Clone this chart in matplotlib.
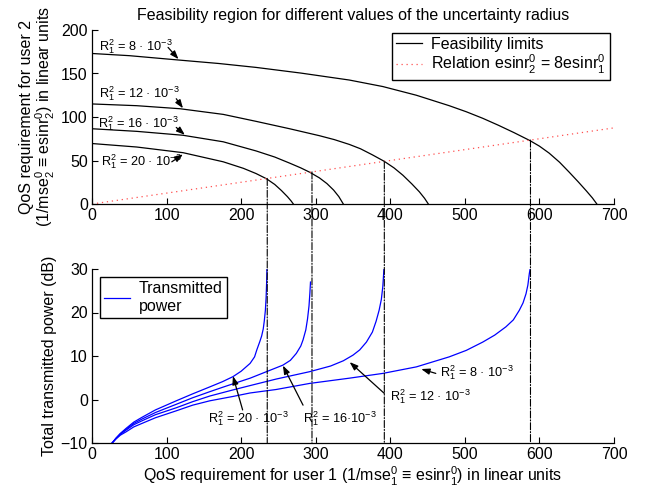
import matplotlib
matplotlib.use('Agg')
import matplotlib.pyplot as plt
from matplotlib.patches import ConnectionPatch

plt.rcParams['font.family'] = ['Liberation Sans', 'DejaVu Sans']
plt.rcParams['mathtext.fontset'] = 'custom'
plt.rcParams['mathtext.rm'] = 'Liberation Sans'
plt.rcParams['mathtext.it'] = 'Liberation Sans:italic'
plt.rcParams['mathtext.bf'] = 'Liberation Sans:bold'
plt.rcParams['xtick.direction'] = 'in'
plt.rcParams['ytick.direction'] = 'in'
plt.rcParams['axes.unicode_minus'] = True

# ---------------- data: feasibility limits (top) ----------------
feas8_x = [0, 50, 116, 170, 220, 280, 345, 390, 435, 479, 502, 524, 545, 566, 587,
           600, 613, 627, 640, 652, 663, 671, 677]
feas8_y = [173, 170.5, 165.5, 161.5, 157, 150.5, 142.5, 135, 125, 113, 106, 98.5, 90.5,
           82, 73, 66.5, 58.5, 48, 36.5, 25.5, 15, 7, 0]

feas12_x = [0, 60, 118, 176, 220, 265, 305, 325, 345, 360, 376, 392, 405, 417, 429, 439,
            446, 451]
feas12_y = [115, 113, 109.5, 103, 95, 86.5, 78.5, 74, 68.5, 63.5, 56.5, 49, 41.5, 33, 23,
            14, 6.5, 0]

feas16_x = [0, 60, 122, 176, 220, 245, 265, 280, 292, 305, 315, 324, 331, 337]
feas16_y = [86.5, 83.5, 79, 71.5, 61, 54, 47, 41.5, 36.5, 30, 23.5, 16, 8.5, 0]

feas20_x = [0, 60, 122, 176, 203, 220, 234, 245, 254, 262, 267, 270]
feas20_y = [69.5, 65.5, 59, 48.5, 41, 35, 29, 22.5, 15.5, 8.5, 3.5, 0]

relation_x = [0, 700]
relation_y = [0, 87.5]

intersect_x = [235, 295, 392, 588]
intersect_y = [29.4, 36.9, 49, 73.5]

# ---------------- data: transmitted power (bottom) ----------------
pow20_x = [27, 32, 38, 46, 56, 67, 85, 113, 135, 158, 175, 189, 200, 212, 218, 221,
           225, 227.5, 229.6, 231, 232.5, 233.5, 234.2, 234.6]
pow20_y = [-10, -8.9, -7.8, -6.6, -5.2, -4.1, -2.4, -0.3, 1.3, 2.9, 4.1, 5.25, 6.5,
           8.3, 9.8, 11.4, 13.3, 14.6, 16.2, 18, 20.5, 23.5, 27, 30]

pow16_x = [27, 32, 38, 46, 56, 67, 85, 113, 135, 158, 175, 189, 212, 234, 256, 266,
           274, 280, 283, 286.7, 289, 291, 292.2, 293]
pow16_y = [-10, -9.0, -7.9, -6.8, -5.5, -4.5, -3.0, -1.1, 0.4, 1.8, 2.8, 3.6, 4.9, 6.4,
           7.9, 9.0, 10.6, 12.3, 13.7, 16, 18.5, 21.5, 24.5, 27]

pow12_x = [27, 32, 38, 46, 56, 67, 85, 113, 135, 158, 189, 212, 247, 292, 320, 337,
           350, 359, 368, 376, 381, 385, 388, 390, 391.5]
pow12_y = [-10, -9.0, -8.0, -7.0, -5.8, -4.9, -3.5, -1.9, -0.5, 0.8, 2.2, 3.2, 4.7,
           6.4, 7.7, 8.9, 10.2, 11.4, 13.2, 15.5, 18.0, 20.5, 23, 26, 30]

pow8_x = [27, 32, 38, 46, 56, 67, 85, 113, 135, 158, 189, 212, 247, 292, 345, 390,
          435, 479, 502, 524, 540, 555, 565, 573, 578, 582, 584.5, 586.5, 587.5]
pow8_y = [-10, -9.1, -8.2, -7.4, -6.3, -5.5, -4.2, -2.6, -1.3, -0.3, 0.7, 1.5, 2.3,
          3.7, 4.9, 6.0, 7.5, 9.8, 11.3, 13.2, 14.8, 16.7, 18.3, 20.5, 22.2, 24.3, 26.3,
          29, 30]

xticks = [0, 100, 200, 300, 400, 500, 600, 700]
yticks_top = [0, 50, 100, 150, 200]
yticks_bot = [-10, 0, 10, 20, 30]

top_labels = ['R$_1^2$ = 8 · 10$^{-3}$', 'R$_1^2$ = 12 · 10$^{-3}$',
              'R$_1^2$ = 16 · 10$^{-3}$', 'R$_1^2$ = 20 · 10$^{-3}$']
bot_labels = ['R$_1^2$ = 20 · 10$^{-3}$', 'R$_1^2$ = 16·10$^{-3}$',
              'R$_1^2$ = 12 · 10$^{-3}$', 'R$_1^2$ = 8 · 10$^{-3}$']

# ---------------- figure ----------------
W, H = 651, 494
fig = plt.figure(figsize=(W / 100, H / 100), dpi=100)
ax1 = fig.add_axes([92 / W, 1 - 204 / H, 522 / W, 174 / H])
ax2 = fig.add_axes([92 / W, 1 - 443 / H, 522 / W, 174 / H])

FS = 11.5
for ax in (ax1, ax2):
    ax.spines['top'].set_visible(False)
    ax.spines['right'].set_visible(False)
    ax.spines['left'].set_linewidth(0.9)
    ax.spines['bottom'].set_linewidth(0.9)
    ax.tick_params(labelsize=FS, length=4, width=0.8, pad=3)
    ax.set_xlim(0, 700)
    ax.set_xticks(xticks)

lk = dict(color='k', lw=0.9)
ax1.plot(feas8_x, feas8_y, label='Feasibility limits', **lk)
ax1.plot(feas12_x, feas12_y, **lk)
ax1.plot(feas16_x, feas16_y, **lk)
ax1.plot(feas20_x, feas20_y, **lk)
ax1.plot(relation_x, relation_y, color='#ff5050', lw=0.9, linestyle=(0, (1, 3)),
         label='Relation esinr$_2^0$ = 8esinr$_1^0$')
ax1.set_ylim(0, 200)
ax1.set_yticks(yticks_top)
ax1.set_title('Feasibility region for different values of the uncertainty radius',
              fontsize=FS, pad=7)
ax1.set_ylabel('QoS requirement for user 2\n(1/mse$_2^0$ ≡ esinr$_2^0$) in linear units',
               fontsize=FS, labelpad=3, linespacing=1.0)
leg1 = ax1.legend(loc='upper right', bbox_to_anchor=(0.992, 0.985), borderaxespad=0,
                  fancybox=False, edgecolor='k', framealpha=1, fontsize=FS,
                  handlelength=1.6, borderpad=0.25, labelspacing=0.05, handletextpad=0.6)
leg1.get_frame().set_linewidth(1.0)

arrow_kw = dict(arrowstyle='-|>,head_length=0.5,head_width=0.18', color='k', lw=0.9,
                shrinkA=0, shrinkB=0)

# top annotations: text position (x, y), arrow tail, arrow tip
top_text_pos = [(10, 181), (10, 127), (8, 92), (12, 48.5)]
top_tails = [(102, 180), (113, 121), (113, 88), (107, 48.5)]
top_tips = [(116, 166.5), (122, 110), (124.5, 79.5), (122, 57)]
for lab, tp, ta, ti in zip(top_labels, top_text_pos, top_tails, top_tips):
    ax1.text(tp[0], tp[1], lab, fontsize=9.2, ha='left', va='center')
    ax1.annotate('', xy=ti, xytext=ta, arrowprops=arrow_kw)

bc = dict(color='b', lw=0.9)
ax2.plot(pow20_x, pow20_y, label='Transmitted\npower', **bc)
ax2.plot(pow16_x, pow16_y, **bc)
ax2.plot(pow12_x, pow12_y, **bc)
ax2.plot(pow8_x, pow8_y, **bc)
ax2.set_ylim(-10, 30)
ax2.set_yticks(yticks_bot)
ax2.set_ylabel('Total transmitted power (dB)', fontsize=FS, labelpad=3)
ax2.set_xlabel('QoS requirement for user 1 (1/mse$_1^0$ ≡ esinr$_1^0$) in linear units',
               fontsize=FS, labelpad=2)
leg2 = ax2.legend(loc='upper left', bbox_to_anchor=(0.0153, 0.952), borderaxespad=0,
                  fancybox=False, edgecolor='k', framealpha=1, fontsize=FS,
                  handlelength=1.6, borderpad=0.25, handletextpad=0.6)
leg2.get_frame().set_linewidth(1.0)

bot_text_pos = [(156, -4.3), (283, -4.3), (399, 0.6), (466, 6.1)]
bot_tails = [(202, -2.4), (283, -1.3), (392, 1.4), (461, 6.0)]
bot_tips = [(189, 5.4), (256, 7.8), (345.5, 8.6), (441.5, 7.0)]
for lab, tp, ta, ti in zip(bot_labels, bot_text_pos, bot_tails, bot_tips):
    ax2.text(tp[0], tp[1], lab, fontsize=9.2, ha='left', va='center')
    ax2.annotate('', xy=ti, xytext=ta, arrowprops=arrow_kw)

# dash-dot connector lines from top intersections down to bottom axis
for xi, yi in zip(intersect_x, intersect_y):
    con = ConnectionPatch(xyA=(xi, yi), coordsA=ax1.transData,
                          xyB=(xi, -10), coordsB=ax2.transData,
                          color='k', lw=0.8, linestyle='-.')
    fig.add_artist(con)

fig.savefig('out.png', dpi=100)
